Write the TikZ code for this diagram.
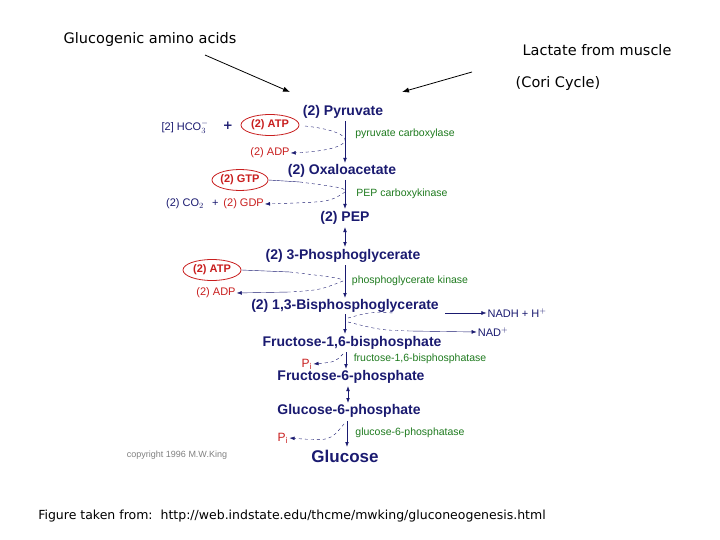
\documentclass[tikz,border=0pt]{standalone}
\usepackage{fontspec}
\setmainfont{DejaVu Sans}
\newfontfamily\arialf{Liberation Sans}
\usetikzlibrary{arrows.meta,shapes.geometric}
\definecolor{navy}{HTML}{1A1A70}
\definecolor{rd}{HTML}{C81E1E}
\definecolor{gr}{HTML}{1E7A1E}
\tikzset{
 met/.style={text=navy,font=\arialf\bfseries\fontsize{14}{15}\selectfont,inner sep=1pt},
 side/.style={text=navy,font=\arialf\fontsize{11}{12}\selectfont,inner sep=1pt},
 red/.style={text=rd,font=\arialf\fontsize{11}{12}\selectfont,inner sep=1pt},
 enz/.style={text=gr,font=\arialf\fontsize{10.5}{12}\selectfont,inner sep=1pt},
 ell/.style={draw=rd,thick,ellipse,text=rd,font=\arialf\bfseries\fontsize{11}{12}\selectfont,minimum width=#1,minimum height=21pt,inner sep=0pt},
 main/.style={navy,thick,-{Latex[length=5pt]}},
 dbl/.style={navy,thick,{Latex[length=5pt]}-{Latex[length=5pt]}},
 dsh/.style={navy,dashed,-{Latex[length=5pt]}},
 big/.style={font=\fontsize{14.5}{17}\selectfont,inner sep=1pt},
}
\begin{document}
\begin{tikzpicture}[x=1pt,y=-1pt]
\useasboundingbox (0,0) rectangle (720,540);
\node[big] (gaa) at (150,40) {Glucogenic amino acids};
\node[big] (lac) at (597,50) {Lactate from muscle};
\node[big] (cori) at (558,84) {(Cori Cycle)};
\coordinate (t1) at (290,92); \coordinate (t2) at (402,92);
\draw[thick,-{Latex[length=7pt]}] (205,55) -- (t1);
\draw[thick,-{Latex[length=7pt]}] (472,72) -- (t2);
% main column
\node[met] (pyr) at (343,112) {(2) Pyruvate};
\node[met] (oaa) at (342,171) {(2) Oxaloacetate};
\node[met] (pep) at (345,218) {(2) PEP};
\node[met] (pg3) at (343,256) {(2) 3-Phosphoglycerate};
\node[met] (bpg) at (345,306) {(2) 1,3-Bisphosphoglycerate};
\node[met] (f16) at (352,343) {Fructose-1,6-bisphosphate};
\node[met] (f6p) at (351,377) {Fructose-6-phosphate};
\node[met] (g6p) at (349,411) {Glucose-6-phosphate};
\node[met,font=\arialf\bfseries\fontsize{17}{18}\selectfont] (glc) at (345,456) {Glucose};
\draw[main] (345,121) -- (345,163);
\draw[main] (345,180) -- (345,209);
\draw[dbl] (345,227) -- (345,247);
\draw[main] (345,265) -- (345,298);
\draw[main] (345,314) -- (345,334);
\draw[main] (346,352) -- (346,369);
\draw[dbl] (348,386) -- (348,403);
\draw[main] (347,421) -- (347,447);
% step 1
\node[side] (hco) at (185,127) {[2] HCO$_3^-$};
\node[text=navy,font=\bfseries\large] (pl1) at (228,126) {+};
\node[ell=58pt] (atp1) at (270,125) {(2) ATP};
\node[red] (adp1) at (270,153) {(2) ADP};
\node[enz] (e1) at (405,134) {pyruvate carboxylase};
\draw[dsh] (305,126) .. controls (360,132) and (360,150) .. (adp1.east);
% step 2
\node[ell=56pt] (gtp) at (240,180) {(2) GTP};
\node[side] (co2) at (185,204) {(2) CO$_2$};
\node[red] (gdp) at (238,204) {\textcolor{navy}{+}\, (2) GDP};
\node[enz] (e2) at (402,194) {PEP carboxykinase};
\draw[navy] (gtp.east) -- (300,182);
\draw[navy,dashed] (300,182) .. controls (345,188) .. (345,192);
\draw[dsh] (345,192) .. controls (330,202) .. (gdp.east);
% step 3
\node[ell=58pt] (atp2) at (212,270) {(2) ATP};
\node[red] (adp2) at (216,293) {(2) ADP};
\node[enz] (e3) at (410,281) {phosphoglycerate kinase};
\draw[navy] (atp2.east) -- (290,272);
\draw[navy,dashed] (290,272) .. controls (340,278) .. (343,281);
\draw[navy,dashed] (343,281) .. controls (320,290) .. (290,292);
\draw[navy,-{Latex[length=5pt]}] (290,292) -- (adp2.east);
% step 4
\node[side] (nadh) at (517,313) {NADH + H$^+$};
\node[side] (nad) at (493,332) {NAD$^+$};
\draw[navy,-{Latex[length=5pt]}] (445,313) -- (nadh.west);
\draw[navy,dashed] (348,318) .. controls (370,312) .. (395,313);
\draw[navy,dashed] (348,322) .. controls (380,330) .. (410,331);
\draw[navy,-{Latex[length=5pt]}] (410,331) -- (nad.west);
% step 5
\node[red,font=\arialf\fontsize{12}{13}\selectfont] (pi1) at (307,364) {P$_\mathrm{i}$};
\node[enz] (e5) at (420,359) {fructose-1,6-bisphosphatase};
\draw[dsh] (343,354) .. controls (335,362) .. (pi1.east);
% step 6
\node[red,font=\arialf\fontsize{12}{13}\selectfont] (pi2) at (283,438) {P$_\mathrm{i}$};
\node[enz] (e6) at (410,433) {glucose-6-phosphatase};
\draw[dsh] (344,424) .. controls (330,441) .. (pi2.east);
\node[text=gray,font=\arialf\fontsize{9}{10}\selectfont] (cpy) at (177,455) {copyright 1996 M.W.King};
\node[font=\fontsize{12.5}{14}\selectfont] (src) at (292,516) {Figure taken from:\ \ http://web.indstate.edu/thcme/mwking/gluconeogenesis.html};
\end{tikzpicture}
\end{document}
